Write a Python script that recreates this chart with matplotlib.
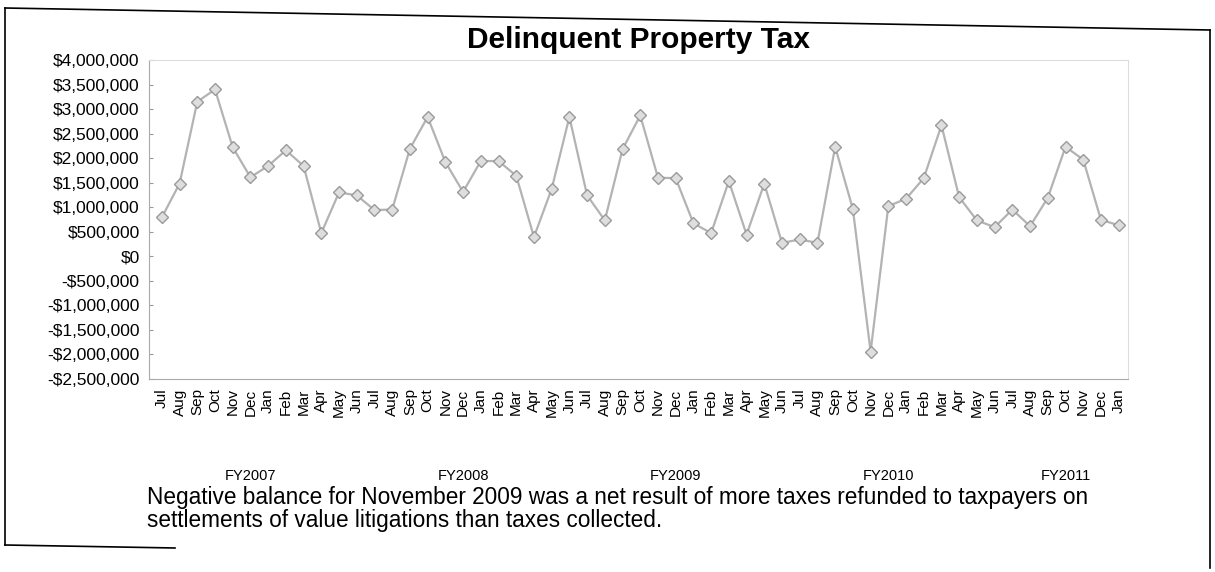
import matplotlib.pyplot as plt
import matplotlib.ticker as mticker
from matplotlib.transforms import blended_transform_factory
from matplotlib.lines import Line2D

plt.rcParams['font.family'] = ['Liberation Sans', 'DejaVu Sans']

# monthly data, Jul 2006 .. Jan 2011
months = ['Jul', 'Aug', 'Sep', 'Oct', 'Nov', 'Dec', 'Jan', 'Feb', 'Mar', 'Apr', 'May', 'Jun'] * 4 \
    + ['Jul', 'Aug', 'Sep', 'Oct', 'Nov', 'Dec', 'Jan']
values = [
    790000, 1480000, 3150000, 3400000, 2220000, 1610000, 1840000, 2160000, 1840000, 470000, 1300000, 1240000,
    940000, 950000, 2190000, 2840000, 1920000, 1310000, 1940000, 1940000, 1640000, 390000, 1370000, 2840000,
    1240000, 730000, 2180000, 2870000, 1600000, 1590000, 670000, 470000, 1530000, 440000, 1480000, 270000,
    340000, 270000, 2230000, 960000, -1950000, 1020000, 1170000, 1590000, 2670000, 1200000, 730000, 590000,
    950000, 610000, 1190000, 2230000, 1970000, 740000, 630000,
]
fy_labels = ['FY2007', 'FY2008', 'FY2009', 'FY2010', 'FY2011']
fy_pos = [5.0, 17.0, 29.0, 41.0, 51.0]

x = list(range(len(values)))

fig = plt.figure(figsize=(12.15, 5.72), dpi=100)
ax = fig.add_axes([0.123, 0.338, 0.805, 0.557])

ax.plot(x, values, color='#b3b3b3', lw=1.6, marker='D', ms=6.5,
        markerfacecolor='#dedede', markeredgecolor='#9a9a9a', markeredgewidth=1.0)

ax.set_ylim(-2500000, 4000000)
ax.yaxis.set_major_locator(mticker.MultipleLocator(500000))
ax.yaxis.set_major_formatter(mticker.FuncFormatter(
    lambda v, p: ('-$' if v < 0 else '$') + f'{abs(int(round(v))):,}'))
ax.set_xlim(-0.7, len(values) - 0.5)
ax.set_xticks(x)
ax.set_xticklabels(months, rotation=90, fontsize=11)
ax.tick_params(axis='x', length=0, pad=7)
ax.tick_params(axis='y', labelsize=12.5, length=3, color='#999999', direction='in', pad=7)
for s in ['top', 'right']:
    ax.spines[s].set_color('#dddddd')
for s in ['left', 'bottom']:
    ax.spines[s].set_color('#aaaaaa')

ax.set_title('Delinquent Property Tax', fontsize=21.5, fontweight='bold', pad=9)

tr = blended_transform_factory(ax.transData, fig.transFigure)
for lab, p in zip(fy_labels, fy_pos):
    fig.text(p, 1 - 476 / 572, lab, transform=tr, ha='center', va='center', fontsize=10.5)

fig.text(147 / 1215, 1 - 509 / 572,
         'Negative balance for November 2009 was a net result of more taxes refunded to taxpayers on\n'
         'settlements of value litigations than taxes collected.',
         fontsize=16.3, ha='left', va='center', linespacing=1.0)

# outer frame of the scanned page
fig.add_artist(Line2D([5 / 1215, 1210 / 1215], [1 - 8 / 572, 1 - 30 / 572], color='black', lw=1.2,
                      transform=fig.transFigure))
fig.add_artist(Line2D([1210 / 1215, 1210 / 1215], [1 - 30 / 572, 1 - 568 / 572], color='black', lw=1.2,
                      transform=fig.transFigure))
fig.add_artist(Line2D([5 / 1215, 5 / 1215], [1 - 8 / 572, 1 - 545 / 572], color='black', lw=1.2,
                      transform=fig.transFigure))
fig.add_artist(Line2D([5 / 1215, 175 / 1215], [1 - 545 / 572, 1 - 548 / 572], color='black', lw=1.2,
                      transform=fig.transFigure))

fig.savefig('out.png', dpi=100)
